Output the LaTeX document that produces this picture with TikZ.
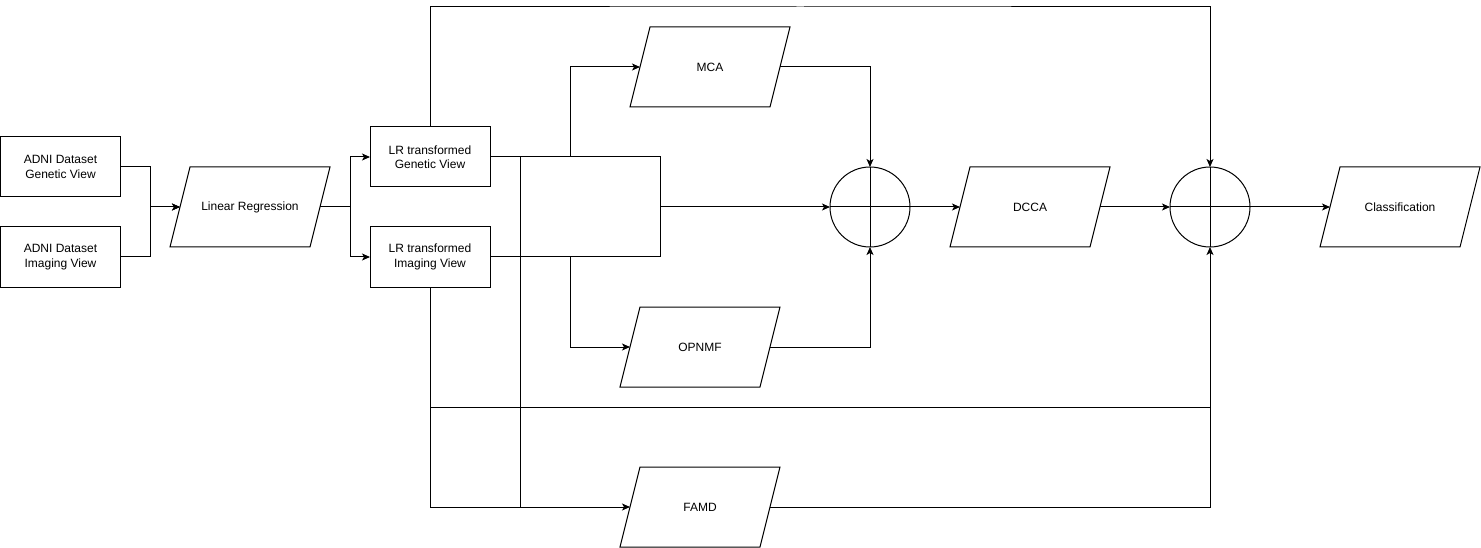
\documentclass[tikz,border=0pt]{standalone}
\usepackage{fontspec}
\setmainfont{Liberation Sans}
\usetikzlibrary{arrows.meta,calc}
\begin{document}
\begin{tikzpicture}[x=1pt,y=-1pt,line width=1pt,
  box/.style={draw,rectangle,minimum width=120pt,minimum height=60pt,inner sep=0pt,outer sep=0pt,align=center,font=\fontsize{12pt}{14.5pt}\selectfont},
  para/.style={rectangle,minimum width=140pt,minimum height=80pt,inner sep=0pt,outer sep=0pt,align=center,font=\fontsize{12pt}{14.5pt}\selectfont},
  sumc/.style={draw,circle,minimum size=80pt,inner sep=0pt,outer sep=0pt},
  arr/.style={-{Stealth[length=8pt,width=7pt,inset=2pt]}}]
\useasboundingbox (0,0) rectangle (1481,548);
\node[box] (g1) at (60.5,167) {ADNI Dataset\\Genetic View};
\node[box] (g2) at (60.5,257) {ADNI Dataset\\Imaging View};
\node[para] (lr) at (250,207) {Linear Regression};
\node[box] (lrg) at (430,157) {LR transformed\\Genetic View};
\node[box] (lrim) at (430,257) {LR transformed\\Imaging View};
\node[draw,rectangle,minimum width=140pt,minimum height=100pt,inner sep=0pt,outer sep=0pt] (junc) at (590,207) {};
\node[para] (mca) at (710,67) {MCA};
\node[para] (opnmf) at (700,347) {OPNMF};
\node[para] (famd) at (700,507) {FAMD};
\node[sumc] (c1) at (870,207) {};
\node[para] (dcca) at (1030,207) {DCCA};
\node[sumc] (c2) at (1210,207) {};
\node[para] (cls) at (1400,207) {Classification};
\coordinate (top) at (800,7);
\coordinate (mid) at (800,407);
\foreach \n in {lr,mca,opnmf,famd,dcca,cls}
  \draw ([xshift=10pt]\n.north west) -- ([xshift=10pt]\n.north east) -- ([xshift=-10pt]\n.south east) -- ([xshift=-10pt]\n.south west) -- cycle;
\foreach \n in {c1,c2}{
  \draw (\n.north) -- (\n.south);
  \draw (\n.west) -- (\n.east);}
\draw[arr] (g1.east) -- ++(30,0) |- (lr.west);
\draw[arr] (g2.east) -- ++(30,0) |- (lr.west);
\draw[arr] (lr.east) -- ++(30,0) |- (lrg.west);
\draw[arr] (lr.east) -- ++(30,0) |- (lrim.west);
\draw (lrg.east) -- (junc.north west);
\draw (lrim.east) -- (junc.south west);
\draw (junc.north west) -- (junc.north west |- famd.west);
\draw[arr] (lrim.south) |- (famd.west);
\draw[arr] (lrg.north) |- (top) -| (c2.north);
\draw (lrim.south |- mid) -- (c2.south |- mid);
\draw[arr] (famd.east) -| (c2.south);
\draw[arr] ([xshift=-20pt]junc.north) |- (mca.west);
\draw[arr] ([xshift=-20pt]junc.south) |- (opnmf.west);
\draw[arr] (junc.east) -- (c1.west);
\draw[arr] (mca.east) -| (c1.north);
\draw[arr] (opnmf.east) -| (c1.south);
\draw[arr] (c1.east) -- (dcca.west);
\draw[arr] (dcca.east) -- (c2.west);
\draw[arr] (c2.east) -- (cls.west);
\end{tikzpicture}
\end{document}
